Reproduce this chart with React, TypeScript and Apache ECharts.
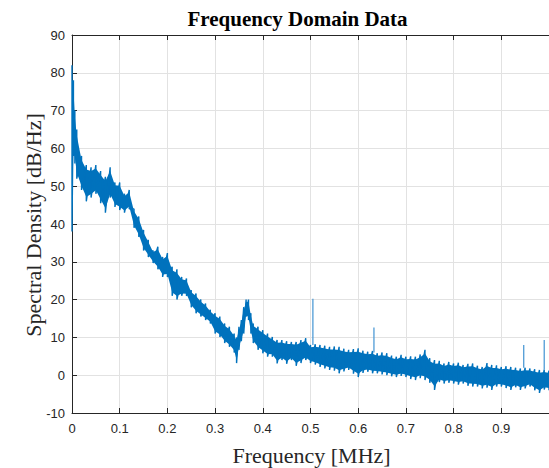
import React, { useEffect, useRef } from "react";
import * as echarts from "echarts";

// Frequency samples (MHz) and the read upper / lower edges of the noisy spectrum (dB/Hz)
const freq = [
  0, 0.003, 0.006, 0.01, 0.02, 0.03, 0.04, 0.05, 0.06, 0.07, 0.08, 0.09, 0.1,
  0.11, 0.12, 0.13, 0.14, 0.15, 0.16, 0.17, 0.18, 0.19, 0.2, 0.21, 0.22, 0.23,
  0.24, 0.25, 0.26, 0.27, 0.28, 0.29, 0.3, 0.31, 0.32, 0.33, 0.34, 0.345, 0.35,
  0.355, 0.36, 0.365, 0.37, 0.375, 0.38, 0.39, 0.4, 0.41, 0.42, 0.43, 0.44,
  0.45, 0.46, 0.47, 0.48, 0.49, 0.5, 0.51, 0.52, 0.53, 0.54, 0.55, 0.56, 0.57,
  0.58, 0.59, 0.6, 0.61, 0.62, 0.63, 0.64, 0.65, 0.66, 0.67, 0.68, 0.69, 0.7,
  0.71, 0.72, 0.73, 0.74, 0.75, 0.76, 0.77, 0.78, 0.79, 0.8, 0.81, 0.82, 0.83,
  0.84, 0.85, 0.86, 0.87, 0.88, 0.89, 0.9, 0.91, 0.92, 0.93, 0.94, 0.95, 0.96,
  0.97, 0.98, 0.99, 1.0,
];
const upper = [
  82, 78, 70, 65, 58, 55.6, 55, 55.6, 54, 52.5, 55, 51, 51,
  48, 49, 44, 42, 38.4, 35.8, 33, 34, 31.3, 32.3, 28.7, 28, 26,
  25.6, 22.5, 21.6, 20, 19, 17.3, 16.4, 15.5, 13.7, 12.8, 11, 10, 12.8,
  14.6, 18, 20, 20, 16.4, 13.7, 12.8, 11.9, 11, 10.1, 9.3, 9.3,
  9, 8.8, 8.8, 9.3, 9.8, 8, 8.2, 8, 7.8, 7.5, 7.6, 7.5, 7,
  6.7, 6.9, 7.1, 6.5, 6.2, 6.4, 5.8, 6, 5.8, 5.2, 4.9, 5.4, 4.9,
  5, 4.9, 5.5, 6.7, 4.5, 4, 3.8, 3.1, 3.5, 3.1, 3.3, 2.7, 3,
  3.1, 2.5, 2.2, 3.2, 2.7, 2.6, 2.2, 2.4, 2.2, 2, 1.8, 2, 1.8,
  1.6, 1.4, 1.5, 1.2,
];
const lower = [
  38, 58, 56, 52, 49, 46, 47, 48, 45.5, 43, 47, 44.5, 43.7,
  43, 44, 39, 36.6, 33, 31.3, 29.7, 28, 26, 26, 21, 20, 21,
  21, 18, 16.4, 15.5, 14.6, 13.7, 11, 10.1, 8.5, 7.5, 6, 3.2, 6.7,
  9, 11, 15.5, 14.6, 11, 8.5, 6.7, 5.8, 4.9, 4.9, 3.1, 4,
  3, 4, 2.5, 3.2, 4, 3.2, 2.8, 2.2, 1.8, 1.4, 1.2, 0.5, 1,
  1.4, 0.4, -0.5, 0.6, 0.9, 0.5, 0.5, 0.2, 0, -0.3, -0.5, -0.2, -0.5,
  -1, -1.3, -0.8, -1.3, -2, -3.9, -1.8, -2.2, -2, -2.2, -2.5, -2.2, -2.8,
  -3, -3, -3.5, -3.3, -3.9, -3, -3, -3.4, -3.9, -3.2, -3.9, -3.5, -3,
  -4, -4.7, -3.8, -4,
];

// Narrow tones standing above the noise floor
const spikeFreq = [0.505, 0.633, 0.947, 0.99];
const spikeBase = [8, 6, 2, 1.5];
const spikeTop = [20.2, 12.6, 8.0, 9.3];

const xTicks = [0, 0.1, 0.2, 0.3, 0.4, 0.5, 0.6, 0.7, 0.8, 0.9];

const BLUE = "#0072BD";
const AXIS = "#262626";
const GRID = "#e2e2e2";

export default function App() {
  const ref = useRef<HTMLDivElement>(null);

  useEffect(() => {
    if (!ref.current) return;
    const chart = echarts.init(ref.current, undefined, { renderer: "svg" });

    const zig: number[][] = [];
    freq.forEach((f, i) => {
      zig.push([f, upper[i]]);
      zig.push([f, lower[i]]);
    });

    const spikeData = spikeFreq.map((f, i) => [f, spikeBase[i], spikeTop[i]]);

    const axisCommon = {
      type: "value" as const,
      axisLine: { show: true, onZero: false, lineStyle: { color: AXIS, width: 1 } },
      axisTick: { show: true, inside: true, length: 5, lineStyle: { color: AXIS } },
    };

    chart.setOption({
      animation: false,
      grid: { left: 72, right: -4, top: 35, bottom: 55, containLabel: false },
      xAxis: [
        {
          ...axisCommon,
          position: "bottom",
          min: 0,
          max: 1,
          interval: 0.1,
          axisLabel: {
            show: true,
            margin: 9,
            fontFamily: "Liberation Sans",
            fontSize: 13,
            color: AXIS,
            showMaxLabel: false,
            formatter: (v: number) => {
              const t = xTicks.find((x) => Math.abs(x - v) < 1e-6);
              return t === undefined ? "" : String(t);
            },
          },
          splitLine: { show: true, lineStyle: { color: GRID, width: 1 } },
        },
        {
          ...axisCommon,
          position: "top",
          min: 0,
          max: 1,
          interval: 0.1,
          axisLabel: { show: false },
          splitLine: { show: false },
        },
      ],
      yAxis: {
        ...axisCommon,
        min: -10,
        max: 90,
        interval: 10,
        axisLabel: {
          margin: 7,
          fontFamily: "Liberation Sans",
          fontSize: 13,
          color: AXIS,
        },
        splitLine: { show: true, lineStyle: { color: GRID, width: 1 } },
      },
      graphic: [
        {
          type: "text",
          x: 297.5,
          y: 19,
          style: {
            text: "Frequency Domain Data",
            font: "bold 21px 'Liberation Serif'",
            fill: "#000",
            textAlign: "center",
            textVerticalAlign: "middle",
          },
        },
        {
          type: "text",
          x: 311.5,
          y: 455,
          style: {
            text: "Frequency [MHz]",
            font: "22px 'Liberation Serif'",
            fill: AXIS,
            textAlign: "center",
            textVerticalAlign: "middle",
          },
        },
        {
          type: "text",
          x: 33,
          y: 225,
          rotation: Math.PI / 2,
          style: {
            text: "Spectral Density [dB/Hz]",
            font: "22px 'Liberation Serif'",
            fill: AXIS,
            textAlign: "center",
            textVerticalAlign: "middle",
          },
        },
      ],
      series: [
        {
          type: "custom",
          xAxisIndex: 0,
          yAxisIndex: 0,
          silent: true,
          clip: true,
          data: [[0, 0]],
          encode: { x: 0, y: 1 },
          renderItem: (params: any, api: any) => {
            const pts: number[][] = [];
            freq.forEach((f, i) => {
              const h = upper[i] - (upper[i] - lower[i]) * 0.12;
              pts.push(api.coord([f, h]));
            });
            for (let i = freq.length - 1; i >= 0; i--) {
              const l = lower[i] + (upper[i] - lower[i]) * 0.12;
              pts.push(api.coord([freq[i], l]));
            }
            return {
              type: "polygon",
              shape: { points: pts },
              style: { fill: BLUE },
            };
          },
          z: 2,
        },
        {
          type: "line",
          xAxisIndex: 0,
          yAxisIndex: 0,
          data: zig,
          showSymbol: false,
          symbol: "none",
          lineStyle: { color: BLUE, width: 1.4 },
          clip: true,
          z: 3,
        },
        {
          type: "custom",
          xAxisIndex: 0,
          yAxisIndex: 0,
          silent: true,
          clip: true,
          data: spikeData,
          encode: { x: 0, y: [1, 2] },
          renderItem: (params: any, api: any) => {
            const p0 = api.coord([api.value(0), api.value(1)]);
            const p1 = api.coord([api.value(0), api.value(2)]);
            return {
              type: "line",
              shape: { x1: p0[0], y1: p0[1], x2: p1[0], y2: p1[1] },
              style: { stroke: "#4f9bd6", lineWidth: 1.3 },
            };
          },
          z: 4,
        },
      ],
    });

    return () => chart.dispose();
  }, []);

  return (
    <div
      ref={ref}
      style={{ position: "fixed", left: 0, top: 0, width: 549, height: 468, background: "#fff" }}
    />
  );
}
